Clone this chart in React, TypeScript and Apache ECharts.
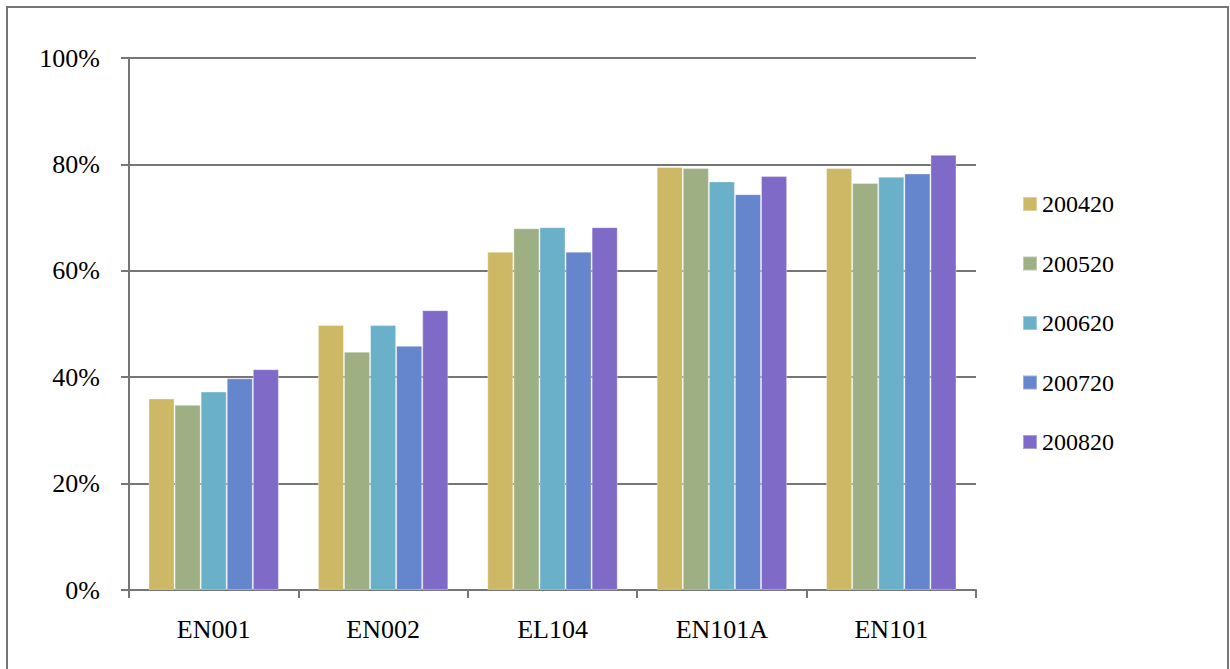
import React, { useEffect, useRef } from "react";
import * as echarts from "echarts";

const categories = ["EN001", "EN002", "EL104", "EN101A", "EN101"];
const seriesNames = ["200420", "200520", "200620", "200720", "200820"];
const s200420 = [36.0, 49.8, 63.6, 79.5, 79.3];
const s200520 = [34.8, 44.8, 68.0, 79.3, 76.5];
const s200620 = [37.3, 49.8, 68.2, 76.8, 77.7];
const s200720 = [39.8, 45.9, 63.6, 74.4, 78.3];
const s200820 = [41.5, 52.6, 68.2, 77.8, 81.8];
const seriesValues = [s200420, s200520, s200620, s200720, s200820];
const colors = ["#CDB866", "#9DAF83", "#6BB0C9", "#6585CC", "#7F6AC7"];
const yTicks = [0, 20, 40, 60, 80, 100];

const FONT = "'Liberation Serif', 'DejaVu Serif', serif";

export default function App() {
  const ref = useRef<HTMLDivElement>(null);
  useEffect(() => {
    if (!ref.current) return;
    const chart = echarts.init(ref.current, undefined, { renderer: "svg" });
    chart.setOption({
      animation: false,
      backgroundColor: "#ffffff",
      color: colors,
      graphic: [
        {
          type: "rect",
          shape: { x: 7, y: 7, width: 1221, height: 700 },
          style: { fill: "none", stroke: "#767676", lineWidth: 2 },
          silent: true,
        },
      ],
      grid: { left: 129, right: 254, top: 58, bottom: 79, containLabel: false },
      legend: {
        orient: "vertical",
        left: 1017,
        top: 187,
        itemWidth: 14,
        itemHeight: 14,
        itemGap: 35.5,
        icon: "rect",
        data: seriesNames,
        textStyle: {
          fontFamily: FONT,
          fontSize: 24,
          color: "#000",
        },
      },
      xAxis: {
        type: "category",
        data: categories,
        axisLine: { lineStyle: { color: "#767676", width: 2 } },
        axisTick: { show: true, length: 8, lineStyle: { color: "#767676", width: 2 } },
        axisLabel: { fontFamily: FONT, fontSize: 26, color: "#000", margin: 26 },
      },
      yAxis: {
        type: "value",
        min: 0,
        max: 100,
        interval: 20,
        axisLine: { show: true, lineStyle: { color: "#767676", width: 2 } },
        axisTick: { show: true, length: 8, lineStyle: { color: "#767676", width: 2 } },
        splitLine: { lineStyle: { color: "#767676", width: 2 } },
        axisLabel: {
          fontFamily: FONT,
          fontSize: 26,
          color: "#000",
          margin: 29,
          formatter: (v: number) => (yTicks.includes(v) ? v + "%" : ""),
        },
      },
      series: seriesNames.map((name, i) => ({
        name,
        type: "bar",
        data: seriesValues[i],
        barGap: "0%",
        barCategoryGap: "23%",
        itemStyle: { color: colors[i], borderColor: "rgba(255,255,255,0.35)", borderWidth: 1 },
      })),
    });
    return () => chart.dispose();
  }, []);
  return (
    <div
      ref={ref}
      style={{ position: "fixed", left: 0, top: 0, width: 1230, height: 669 }}
    />
  );
}
